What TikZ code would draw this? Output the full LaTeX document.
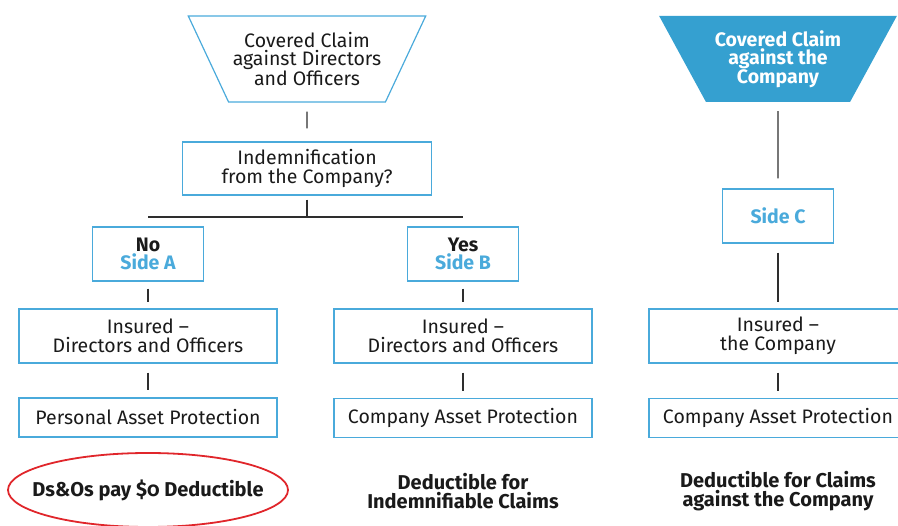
\documentclass[tikz,border=0pt]{standalone}
\usepackage{fontspec}
\setmainfont{Fira Sans}
\usepackage{tikz}
\usetikzlibrary{shapes.geometric}

\begin{document}
\begin{tikzpicture}[
    x=1pt, y=-1pt,
    box/.style={draw=cblue, line width=1.4pt, align=center,
                minimum height=54pt, minimum width=258pt,
                font=\fontsize{19.5}{18.8}\selectfont, text=ctext, inner sep=2pt},
    sidebox/.style={box, minimum width=111pt, font=\bfseries\fontsize{19.5}{18.8}\selectfont},
    flatbox/.style={box, minimum height=39pt},
    funnel/.style={trapezium, shape border rotate=180, trapezium stretches=true,
                   trapezium angle=54.4, minimum width=238pt, minimum height=86pt,
                   align=center, inner sep=0pt, font=\fontsize{19.5}{18}\selectfont},
    link/.style={draw=clink, line width=1.2pt, shorten <=9pt, shorten >=7pt},
    note/.style={align=center, text=ctext, font=\bfseries\fontsize{20}{19}\selectfont},
    ring/.style={ellipse, draw=cred, line width=1.8pt, minimum width=280pt,
                 minimum height=74pt, inner sep=0pt},
]
% ---- Colours ----
\definecolor{cblue}{HTML}{4AAADB}   % box borders and side labels
\definecolor{cfill}{HTML}{35A0D0}   % filled funnel
\definecolor{ctext}{HTML}{1A1A1A}   % body text
\definecolor{clink}{HTML}{2E2E2E}   % connectors
\definecolor{cred}{HTML}{E0262B}    % highlight ring
\useasboundingbox (0,0) rectangle (898,526);

% ---- Claims against directors and officers ----
\node[funnel, draw=cblue, line width=1.2pt, text=ctext] (claimDO) at (307,59)
    {Covered Claim\\against Directors\\and Officers};
\node[box, minimum width=249pt, minimum height=53pt] (indem) at (307,168.5)
    {Indemnification\\from the Company?};
\coordinate (split) at (307,217);

% ---- Side A column ----
\node[sidebox] (sideA) at (148,254) {No\\\textcolor{cblue}{Side A}};
\node[box] (insA) at (148,336) {Insured --\\Directors and Officers};
\node[flatbox] (protA) at (148,417.5) {Personal Asset Protection};
\node[ring, label={[note]center:Ds\&Os pay {\addfontfeatures{Numbers=OldStyle}\$0} Deductible}]
    (dedA) at (148,490) {};

% ---- Side B column ----
\node[sidebox] (sideB) at (463,254) {Yes\\\textcolor{cblue}{Side B}};
\node[box] (insB) at (463,336) {Insured --\\Directors and Officers};
\node[flatbox] (protB) at (463,418) {Company Asset Protection};
\node[note] (dedB) at (463,491) {Deductible for\\Indemnifiable Claims};

% ---- Side C column ----
\node[funnel, fill=cfill, text=white, font=\bfseries\fontsize{19.5}{18}\selectfont] (claimCo) at (778,59)
    {Covered Claim\\against the\\Company};
\node[sidebox, text=cblue] (sideC) at (778,216) {Side C};
\node[box] (insC) at (778,336) {Insured --\\the Company};
\node[flatbox] (protC) at (778,418) {Company Asset Protection};
\node[note] (dedC) at (778,491) {Deductible for Claims\\against the Company};

% ---- Connectors ----
\draw[link, shorten >=13pt] (claimDO) -- (indem);
\draw[link, shorten <=4pt, shorten >=0pt] (indem) -- (split);
\draw[draw=clink, line width=1.2pt] (sideA |- split) -- (sideB |- split);
\foreach \col in {A,B} {
    \draw[link, shorten <=7pt, shorten >=6pt] (side\col) -- (ins\col);
    \draw[link] (ins\col) -- (prot\col);
}
\draw[link, shorten >=10pt] (claimCo) -- (sideC);
\draw[link, shorten >=6pt] (sideC) -- (insC);
\draw[link] (insC) -- (protC);
\end{tikzpicture}
\end{document}
